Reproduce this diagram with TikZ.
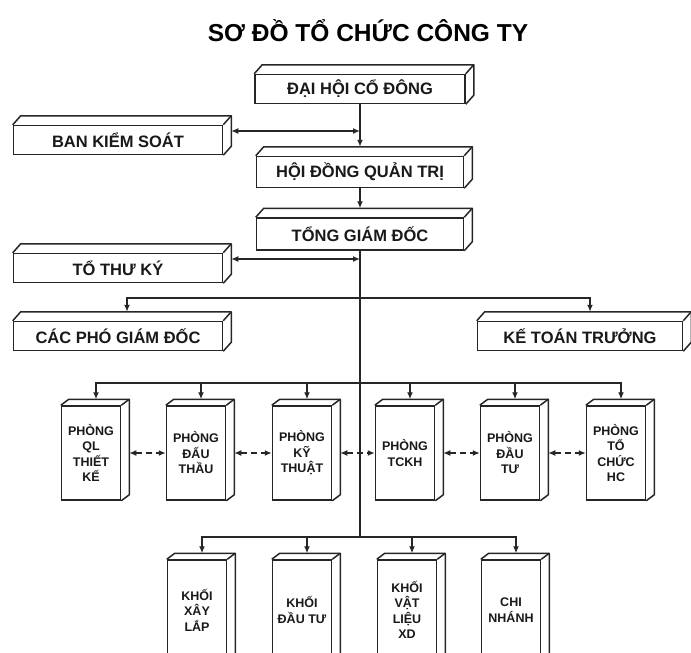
\documentclass[tikz,border=0pt]{standalone}
\usepackage{fontspec}
\setmainfont{Liberation Sans}
\usetikzlibrary{arrows.meta,calc}

% top and right faces of a box node
\newcommand{\slab}[3]{%
  \draw[face] (#1.north west) -- ++(#2,-#3) -- ($(#1.north east)+(#2,-#3)$)
    -- ($(#1.south east)+(#2,-#3)$) -- (#1.south east);
  \draw[face] (#1.north east) -- ++(#2,-#3);
}

\begin{document}
\begin{tikzpicture}[
    x=1pt, y=-1pt,
    >={Latex[length=7pt,width=6pt]},
    face/.style={line width=1.5pt, line join=round, black!85},
    wide/.style={draw=black!85, line width=1.5pt, fill=white, minimum width=#1,
      minimum height=29pt, inner sep=0pt, text=black!90,
      font=\fontsize{16.5}{18}\selectfont\bfseries},
    tall/.style={draw=black!85, line width=1.5pt, fill=white, minimum width=59pt,
      minimum height=#1, inner sep=0pt, align=center, text=black!90,
      font=\fontsize{12.5}{15.5}\selectfont\bfseries},
    conn/.style={line width=1.3pt, black!85},
    link/.style={line width=1.3pt, black!85, dash pattern=on 6pt off 4pt, <->}
  ]

  \useasboundingbox (0,0) rectangle (691,653);
  \clip (0,0) rectangle (691,653);

  \node (title) at (368,31) {\fontsize{24.5}{28}\selectfont\bfseries SƠ ĐỒ TỔ CHỨC CÔNG TY};

  \node[wide=210pt] (dhcd) at (360,89) {ĐẠI HỘI CỔ ĐÔNG};
  \node[wide=207pt, minimum height=31pt] (hdqt) at (360,172) {HỘI ĐỒNG QUẢN TRỊ};
  \node[wide=207pt, minimum height=32pt] (tgd) at (360,234) {TỔNG GIÁM ĐỐC};
  \node[wide=209pt] (bks) at (118,140) {BAN KIỂM SOÁT};
  \node[wide=209pt] (ttk) at (118,268) {TỔ THƯ KÝ};
  \node[wide=209pt] (cpgd) at (118,336) {CÁC PHÓ GIÁM ĐỐC};
  \node[wide=205pt] (ktt) at (580,336) {KẾ TOÁN TRƯỞNG};
  \foreach \n in {dhcd,hdqt,tgd,bks,ttk,cpgd,ktt} {\slab{\n}{8}{9}}

  \foreach \m/\px/\txt in {1/91/{PHÒNG\\QL\\THIẾT\\KẾ}, 2/196/{PHÒNG\\ĐẤU\\THẦU},
      3/302/{PHÒNG\\KỸ\\THUẬT}, 4/405/{PHÒNG\\TCKH}, 5/510/{PHÒNG\\ĐẦU\\TƯ},
      6/616/{PHÒNG\\TỔ\\CHỨC\\HC}}
    \node[tall=94pt] (p\m) at (\px,453) {\txt};

  \foreach \m/\px/\txt in {1/197/{KHỐI\\XÂY\\LẮP}, 2/302/{KHỐI\\ĐẦU TƯ},
      3/407/{KHỐI\\VẬT\\LIỆU\\XD}, 4/511/{CHI\\NHÁNH}}
    \node[tall=100pt] (k\m) at (\px,610) {\txt};

  \foreach \n in {p1,p2,p3,p4,p5,p6,k1,k2,k3,k4} {\slab{\n}{8}{6}}

  % trunk
  \draw[conn,->] (dhcd.south) -- ($(hdqt.north)+(0,-9)$);
  \draw[conn,->] (hdqt.south) -- ($(tgd.north)+(0,-9)$);
  \coordinate (bus0) at (360,537);
  \coordinate (bus1) at (360,298);
  \coordinate (bus2) at (360,383);
  \draw[conn] (tgd.south) -- (bus0);

  \coordinate (jbks) at ($(bks.east -| dhcd.south)+(0,-9)$);
  \coordinate (jttk) at ($(ttk.east -| tgd.south)+(0,-9)$);
  \draw[conn,<->] ($(bks.east)+(8,-9)$) -- (jbks);
  \draw[conn,<->] ($(ttk.east)+(8,-9)$) -- (jttk);

  \draw[conn,->] (bus1) -| ($(cpgd.north)+(9,-9)$);
  \draw[conn,->] (bus1) -| ($(ktt.north)+(10,-9)$);
  \foreach \m in {1,...,6} \draw[conn,->] (bus2) -| ($(p\m.north)+(5,-6)$);
  \foreach \m in {1,...,4} \draw[conn,->] (bus0) -| ($(k\m.north)+(5,-6)$);

  \foreach \m/\nn in {1/2,2/3,3/4,4/5,5/6}
    \draw[link] ($(p\m.east)+(8,0)$) -- (p\nn.west);

\end{tikzpicture}
\end{document}
